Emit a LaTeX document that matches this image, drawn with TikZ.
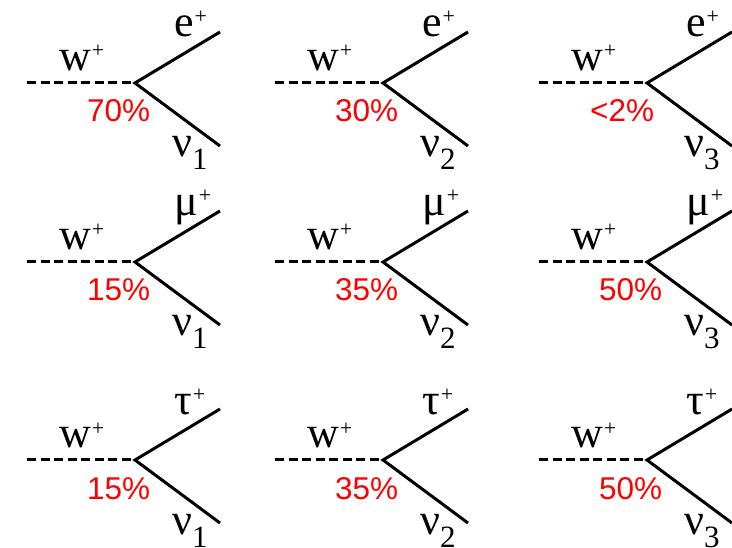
\documentclass[tikz,border=0pt]{standalone}
\usepackage{fontspec}
\setmainfont{Liberation Serif}
\newfontfamily\pctfont{Liberation Sans}
\usetikzlibrary{calc}
\tikzset{
  dashline/.style={line width=3pt, dash pattern=on 9pt off 4.5pt},
  arm/.style={line width=3pt},
  lab/.style={inner sep=0pt, font=\fontsize{44}{44}\selectfont},
  pct/.style={inner sep=0pt, text=red, font=\pctfont\fontsize{31.5}{31.5}\selectfont},
}
\newcommand\plussup[1]{\kern1pt\raisebox{13pt}{\fontsize{22}{22}\selectfont #1}}
\newcommand\fey[7]{%
  \coordinate (v#1) at (#2,#3);
  \coordinate (s#1) at ($(v#1)+(-108,0)$);
  \coordinate (u#1) at ($(v#1)+(85,-51)$);
  \coordinate (d#1) at ($(v#1)+(85,63)$);
  \draw[dashline] (s#1) -- (v#1);
  \draw[arm] (u#1) -- (v#1) -- (d#1);
  \node[lab, anchor=base west] (w#1) at ($(v#1)+(-76,-12)$) {w\plussup{+}};
  \node[lab, anchor=base west] (l#1) at ($(v#1)+(39,-46)$) {#4\plussup{+}};
  \node[lab, anchor=base west] (n#1) at ($(v#1)+(37,74)$) {ν\raisebox{-13pt}{\fontsize{31}{31}\selectfont #5}};
  \node[pct, anchor=base west] (p#1) at ($(v#1)+(#7,39)$) {#6};
}
\begin{document}
\begin{tikzpicture}[x=1pt,y=-1pt]
  \useasboundingbox[fill=white] (0,0) rectangle (732,548);
  \fey{a}{135}{83}{e}{1}{70\%}{-48}
  \fey{b}{383}{83}{e}{2}{30\%}{-48}
  \fey{c}{647}{83}{e}{3}{<2\%}{-57}
  \fey{d}{135}{262}{μ}{1}{15\%}{-48}
  \fey{e}{383}{262}{μ}{2}{35\%}{-48}
  \fey{f}{647}{262}{μ}{3}{50\%}{-48}
  \fey{g}{135}{460}{τ}{1}{15\%}{-48}
  \fey{h}{383}{460}{τ}{2}{35\%}{-48}
  \fey{i}{647}{460}{τ}{3}{50\%}{-48}
\end{tikzpicture}
\end{document}
